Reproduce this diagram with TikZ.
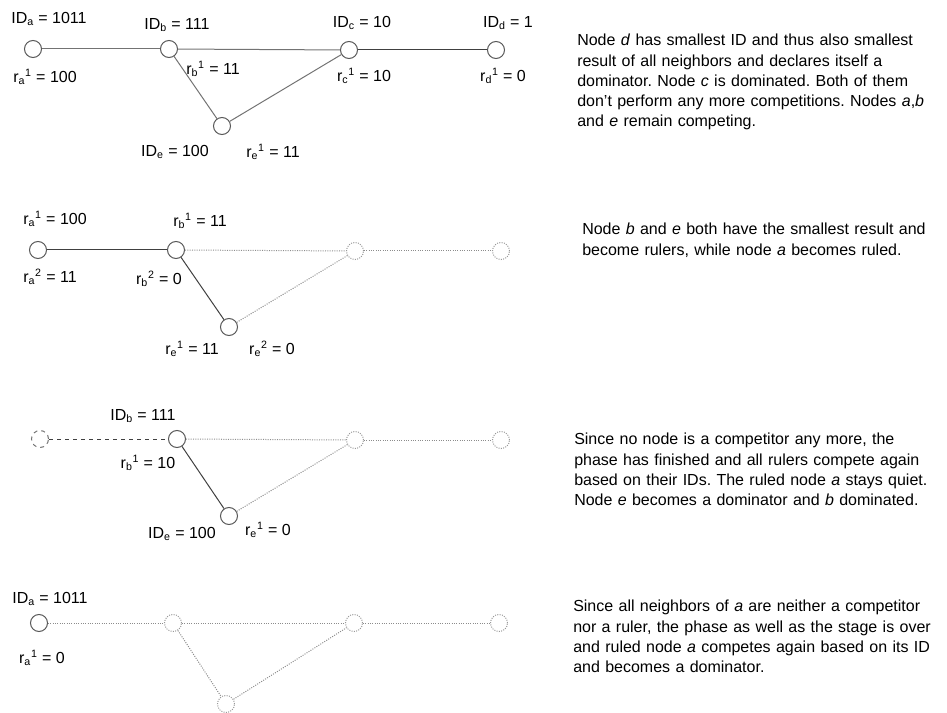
\documentclass[tikz,border=0pt]{standalone}
\usepackage{fontspec}
\setmainfont{Liberation Sans}
\usepackage{tikz}
\usetikzlibrary{positioning}
\frenchspacing
\tikzset{
    vertex/.style={circle, draw=black!65, line width=0.75pt, minimum size=12.75pt, inner sep=0pt},
    idle vertex/.style={vertex, draw=black!40, densely dotted},
    ruled vertex/.style={vertex, draw=black!55, dashed},
    edge/.style={draw, black!55, line width=0.75pt},
    dark edge/.style={draw, black!75, line width=0.75pt},
    idle edge/.style={draw, black!45, densely dotted, line width=0.75pt},
    ruled edge/.style={draw, black!75, dashed, line width=0.75pt},
    lbl/.style={inner sep=0pt, font=\fontsize{12}{14}\selectfont},
    note/.style={anchor=north west, inner sep=0pt, align=left, text width=280pt, font=\fontsize{12}{15.2}\selectfont},
}
\newcommand{\sub}[1]{\textsubscript{#1}}
\newcommand{\sups}[1]{\textsuperscript{#1}}

\begin{document}
\begin{tikzpicture}[x=0.75pt, y=-0.75pt]
\useasboundingbox (0,0) rectangle (947,713);

% Nodes, first step
\node[vertex] (a1) at (33,49) {};
\node[vertex] (b1) at (169,49) {};
\node[vertex] (c1) at (349,50) {};
\node[vertex] (d1) at (496,50) {};
\node[vertex] (e1) at (222,126) {};

% Edges, first step
\draw[edge] (a1) -- (b1);
\draw[edge] (b1) -- (c1);
\draw[dark edge] (c1) -- (d1);
\draw[edge] (b1) -- (e1);
\draw[edge] (e1) -- (c1);

% Labels, first step
\node[lbl] (ida1) at (49,19) {ID\sub{a} = 1011};
\node[lbl] (idb1) at (177,25) {ID\sub{b} = 111};
\node[lbl] (idc1) at (362,23) {ID\sub{c} = 10};
\node[lbl] (idd1) at (508,23) {ID\sub{d} = 1};
\node[lbl] (ra1) at (45,77) {r\sub{a}\sups{1} = 100};
\node[lbl] (rb1) at (213,69) {r\sub{b}\sups{1} = 11};
\node[lbl] (rc1) at (364,76) {r\sub{c}\sups{1} = 10};
\node[lbl] (rd1) at (503,76) {r\sub{d}\sups{1} = 0};
\node[lbl] (ide1) at (175,152) {ID\sub{e} = 100};
\node[lbl] (re1) at (273,152) {r\sub{e}\sups{1} = 11};

% Nodes, second step
\node[vertex] (a2) at (38,250) {};
\node[vertex] (b2) at (176,250) {};
\node[idle vertex] (c2) at (355,251) {};
\node[idle vertex] (d2) at (501,251) {};
\node[vertex] (e2) at (229,327) {};

% Edges, second step
\draw[dark edge] (a2) -- (b2);
\draw[dark edge] (b2) -- (e2);
\draw[idle edge] (b2) -- (c2);
\draw[idle edge] (e2) -- (c2);
\draw[idle edge] (c2) -- (d2);

% Labels, second step
\node[lbl] (ra2) at (55,219) {r\sub{a}\sups{1} = 100};
\node[lbl] (raa2) at (50,277) {r\sub{a}\sups{2} = 11};
\node[lbl] (rb2) at (200,221) {r\sub{b}\sups{1} = 11};
\node[lbl] (rbb2) at (159,279) {r\sub{b}\sups{2} = 0};
\node[lbl] (re2) at (192,349) {r\sub{e}\sups{1} = 11};
\node[lbl] (ree2) at (272,349) {r\sub{e}\sups{2} = 0};

% Nodes, third step
\node[ruled vertex] (a3) at (40,439) {};
\node[vertex] (b3) at (177,439) {};
\node[idle vertex] (c3) at (355,440) {};
\node[idle vertex] (d3) at (501,440) {};
\node[vertex] (e3) at (229,516) {};

% Edges, third step
\draw[ruled edge] (a3) -- (b3);
\draw[dark edge] (b3) -- (e3);
\draw[idle edge] (b3) -- (c3);
\draw[idle edge] (e3) -- (c3);
\draw[idle edge] (c3) -- (d3);

% Labels, third step
\node[lbl] (idb3) at (143,416) {ID\sub{b} = 111};
\node[lbl] (rb3) at (148,463) {r\sub{b}\sups{1} = 10};
\node[lbl] (ide3) at (182,534) {ID\sub{e} = 100};
\node[lbl] (re3) at (268,530) {r\sub{e}\sups{1} = 0};

% Nodes, fourth step
\node[vertex] (a4) at (39,623) {};
\node[idle vertex] (b4) at (173,623) {};
\node[idle vertex] (c4) at (354,623) {};
\node[idle vertex] (d4) at (499,623) {};
\node[idle vertex] (e4) at (226,704) {};

% Edges, fourth step
\draw[idle edge] (a4) -- (b4);
\draw[idle edge] (b4) -- (c4);
\draw[idle edge] (b4) -- (e4);
\draw[idle edge] (e4) -- (c4);
\draw[idle edge] (c4) -- (d4);

% Labels, fourth step
\node[lbl] (ida4) at (50,599) {ID\sub{a} = 1011};
\node[lbl] (ra4) at (42,658) {r\sub{a}\sups{1} = 0};

% Explanations
\node[note] (txt1) at (577,34) {Node \textit{d} has smallest ID and thus also smallest\\
result of all neighbors and declares itself a\\
dominator. Node \textit{c} is dominated. Both of them\\
don't perform any more competitions. Nodes \textit{a},\textit{b}\\
and \textit{e} remain competing.};
\node[note] (txt2) at (582,223) {Node \textit{b} and \textit{e} both have the smallest result and\\
become rulers, while node \textit{a} becomes ruled.};
\node[note] (txt3) at (574,433) {Since no node is a competitor any more, the\\
phase has finished and all rulers compete again\\
based on their IDs. The ruled node \textit{a} stays quiet.\\
Node \textit{e} becomes a dominator and \textit{b} dominated.};
\node[note] (txt4) at (573,600) {Since all neighbors of \textit{a} are neither a competitor\\
nor a ruler, the phase as well as the stage is over\\
and ruled node \textit{a} competes again based on its ID\\
and becomes a dominator.};
\end{tikzpicture}
\end{document}
